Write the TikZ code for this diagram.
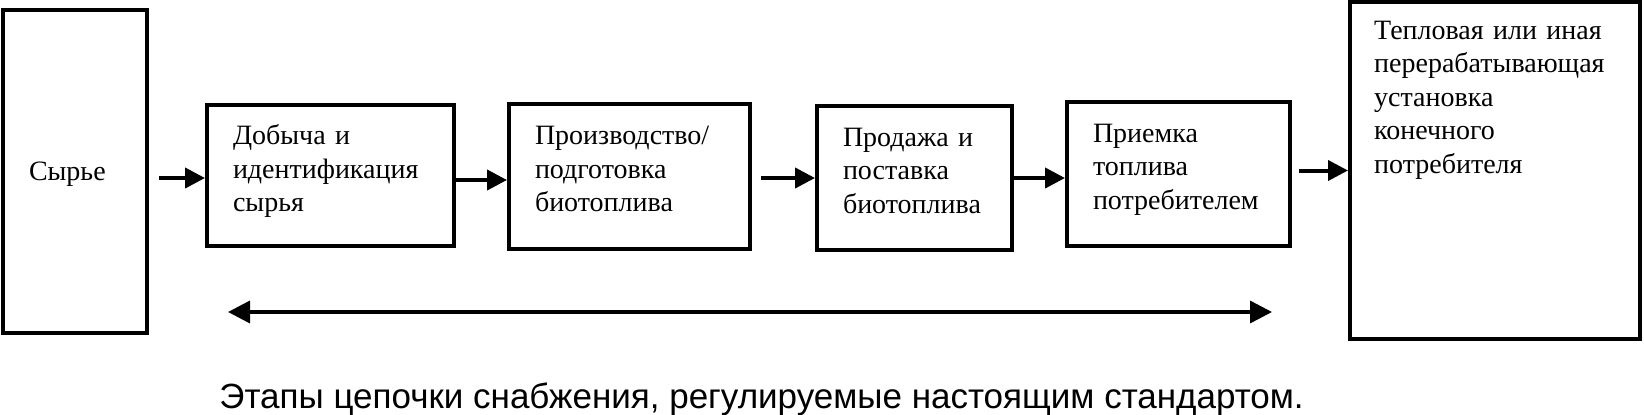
\documentclass[tikz,border=0pt]{standalone}
\usepackage{fontspec}
\setmainfont{Liberation Serif}
\setsansfont{Liberation Sans}
\usetikzlibrary{arrows.meta}

\begin{document}
\begin{tikzpicture}[x=1pt, y=-1pt,
  stage/.style={draw, line width=4pt, inner xsep=26pt, inner ysep=0pt, align=left, text depth=82pt,
    font=\fontsize{28}{33.5}\selectfont},
  flow/.style={-{Triangle[length=20pt, width=20pt]}, line width=4pt},
  span/.style={{Triangle[length=22pt, width=22pt]}-{Triangle[length=22pt, width=22pt]}, line width=3.5pt}
]
  \useasboundingbox (0,0) rectangle (1644,415);

  % Supply chain stages
  \node[stage, text depth=0pt, minimum width=144pt, minimum height=323pt, text width=92pt] (syrye) at (75,171.5) {Сырье};
  \node[stage, minimum width=247pt, minimum height=141pt, text width=195pt] (dobycha) at (330.5,175.5)
    {Добыча и\\идентификация\\сырья};
  \node[stage, minimum width=241pt, minimum height=145pt, text width=189pt] (proizvodstvo) at (629.5,176.5)
    {Производство/\\подготовка\\биотоплива};
  \node[stage, minimum width=195pt, minimum height=144pt, text width=143pt] (prodazha) at (914.5,178)
    {Продажа и\\поставка\\биотоплива};
  \node[stage, minimum width=223pt, minimum height=144pt, text width=171pt] (priemka) at (1178.5,174)
    {Приемка\\топлива\\потребителем};
  \node[draw, line width=4pt, minimum width=290pt, minimum height=337pt] (ustanovka) at (1495,170.5) {};
  \node[anchor=base west, align=left, text width=260pt, inner sep=0pt, font=\fontsize{28}{33.5}\selectfont]
    (ustanovka-text) at ([xshift=26pt, yshift=-39pt]ustanovka.north west)
    {Тепловая или иная\\перерабатывающая\\установка\\конечного\\потребителя};

  \draw[flow, shorten <=10pt] ([yshift=-2.5pt]dobycha.west -| syrye.east) -- ([yshift=-2.5pt]dobycha.west);
  \draw[flow] ([yshift=-3.5pt]proizvodstvo.west -| dobycha.east) -- ([yshift=-3.5pt]proizvodstvo.west);
  \draw[flow, shorten <=9pt] (prodazha.west -| proizvodstvo.east) -- (prodazha.west);
  \draw[flow] ([yshift=-4pt]priemka.west -| prodazha.east) -- ([yshift=-4pt]priemka.west);
  \draw[flow, shorten <=7pt] (ustanovka.west -| priemka.east) -- (ustanovka.west);

  % Regulated span
  \coordinate (span-l) at (228,312);
  \coordinate (span-r) at (1272,312);
  \draw[span] (span-l) -- (span-r);

  \node[font=\sffamily\fontsize{35}{42}\selectfont, anchor=base] (caption) at (761.5,408)
    {Этапы цепочки снабжения, регулируемые настоящим стандартом.};
\end{tikzpicture}
\end{document}
